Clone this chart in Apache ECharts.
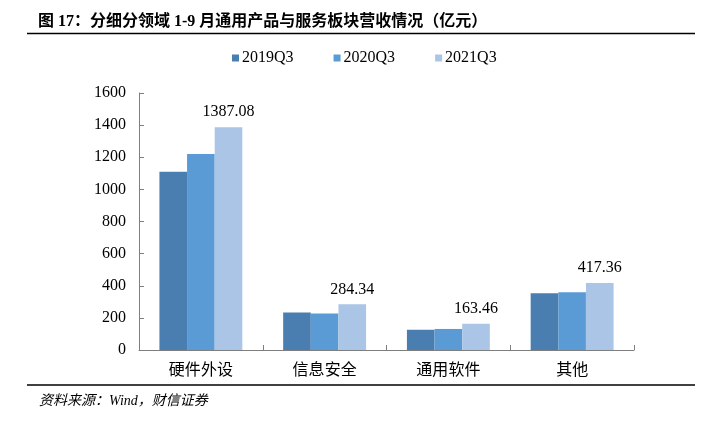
<!DOCTYPE html>
<html><head><meta charset="utf-8">
<script src="https://cdn.jsdelivr.net/npm/echarts@6/dist/echarts.min.js"></script>
<style>html,body{margin:0;padding:0;background:#fff}#c{width:705px;height:422px}</style>
</head><body><div id="c"></div>
<script>
const categories = ['硬件外设', '信息安全', '通用软件', '其他'];
const seriesNames = ['2019Q3', '2020Q3', '2021Q3'];
const v2019 = [1110, 234, 126, 353];
const v2020 = [1220, 228, 131, 359];
const v2021 = [1387.08, 284.34, 163.46, 417.36];
const colors = ['#4A7EB0', '#5B9BD5', '#ABC5E6'];
const serif = '"Liberation Serif", "Times New Roman", "Noto Sans CJK SC", serif';
const cjk = '"Liberation Serif", "Noto Sans CJK SC", sans-serif';

const chart = echarts.init(document.getElementById('c'), null, {renderer: 'canvas'});
const vals = [v2019, v2020, v2021];
chart.setOption({
  animation: false,
  color: colors,
  graphic: [
    {type: 'text', left: 38, top: 14, style: {text: '图 17：分细分领域 1-9 月通用产品与服务板块营收情况（亿元）', font: 'bold 16px ' + cjk, fill: '#000'}},
    {type: 'line', shape: {x1: 27, y1: 33.5, x2: 695, y2: 33.5}, style: {stroke: '#000', lineWidth: 1.5}},
    {type: 'line', shape: {x1: 27, y1: 385, x2: 695, y2: 385}, style: {stroke: '#000', lineWidth: 1.5}},
    {type: 'text', left: 39, top: 394, style: {text: '资料来源：Wind，财信证券', font: 'italic 14px ' + cjk, fill: '#000'}}
  ],
  legend: {
    top: 45, left: 227,
    itemWidth: 7, itemHeight: 7, itemGap: 40,
    icon: 'rect',
    textStyle: {fontFamily: serif, fontSize: 16, color: '#000', padding: [0, 0, 0, -2]},
    data: seriesNames
  },
  grid: {left: 139, right: 71, top: 93, bottom: 72, containLabel: false},
  xAxis: {
    type: 'category', data: categories,
    axisLine: {lineStyle: {color: '#7f7f7f', width: 1}},
    axisTick: {show: true, inside: true, length: 5, lineStyle: {color: '#7f7f7f'}},
    axisLabel: {fontFamily: '"Noto Sans CJK SC", sans-serif', fontSize: 16, color: '#000', margin: 11}
  },
  yAxis: {
    type: 'value', min: 0, max: 1600, interval: 200,
    axisLine: {show: true, lineStyle: {color: '#7f7f7f', width: 1}},
    axisTick: {show: true, inside: true, length: 5, lineStyle: {color: '#7f7f7f'}},
    splitLine: {show: false},
    axisLabel: {fontFamily: serif, fontSize: 16, color: '#000', margin: 13, formatter: v => String(v)}
  },
  series: seriesNames.map((n, i) => ({
    name: n, type: 'bar', data: vals[i],
    barGap: '0%', barCategoryGap: '33%',
    itemStyle: {color: colors[i]},
    label: i === 2 ? {show: true, position: 'top', distance: 7, fontFamily: serif, fontSize: 16, color: '#000', formatter: p => p.value.toFixed(2)} : {show: false}
  }))
});
</script></body></html>
